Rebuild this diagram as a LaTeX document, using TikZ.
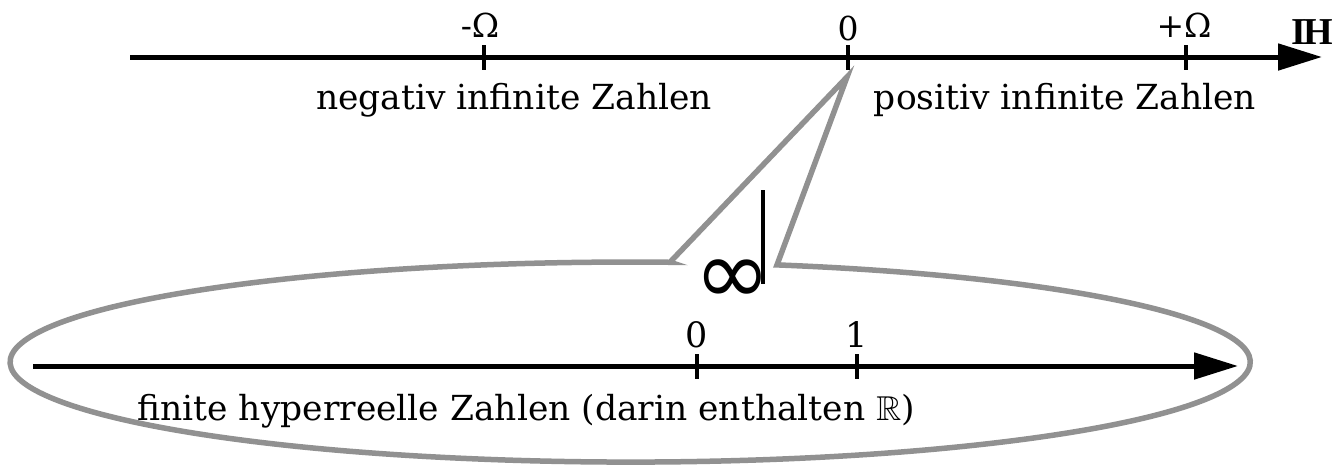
\documentclass[tikz,border=0pt]{standalone}
\usepackage{fontspec}
\usepackage{amssymb}
\setmainfont{DejaVu Serif}
\newfontfamily\symfont{DejaVu Sans}
\newfontfamily\timesfont{Liberation Serif}
\usetikzlibrary{arrows.meta}
\definecolor{calloutgray}{RGB}{145,145,145}
\tikzset{
  axisline/.style={line width=5pt, -{Triangle[length=44pt,width=26pt]}},
  tickmark/.style={line width=4.5pt},
  ticklabel/.style={font=\fontsize{33}{38}\selectfont, inner sep=0pt},
  bigticklabel/.style={font=\fontsize{35}{40}\selectfont, inner sep=0pt},
  rangelabel/.style={font=\fontsize{34.5}{40}\selectfont, inner sep=0pt},
  calloutline/.style={draw=calloutgray, line width=5.5pt, line join=miter}
}
\begin{document}
\begin{tikzpicture}[x=1pt,y=1pt]
\useasboundingbox (0,0) rectangle (1343,-472);
% callout ellipse with pointer
\coordinate (cA) at (670,-262.2);
\coordinate (cTip) at (847,-77);
\coordinate (cB) at (777,-264.9);
\draw[calloutline] (cA) -- (cTip) -- (cB)
  arc[start angle=76.3, end angle=-273.7, x radius=620pt, y radius=100pt] -- cycle;
% top axis (hyperreal line)
\coordinate (hs) at (130,-57);
\coordinate (he) at (1322,-57);
\draw[axisline] (hs) -- (he);
\foreach \name/\x in {tm/484, tz/848, tp/1186}{
  \coordinate (\name) at (\x,-57);
  \draw[tickmark] ([yshift=12pt]\name) -- ([yshift=-13pt]\name);
}
\node[ticklabel] (lm) at (480,-25) {-Ω};
\node[ticklabel] (lz) at (848,-28) {0};
\node[ticklabel] (lp) at (1184,-25) {+Ω};
\node[inner sep=0pt, font=\timesfont\bfseries\fontsize{38}{42}\selectfont] (lH) at (1312,-32) {I\kern-.08em H};
\node[rangelabel] (neg) at (514,-100) {negativ infinite Zahlen};
\node[rangelabel] (pos) at (1065,-100) {positiv infinite Zahlen};
% infinitesimal symbol
\node[inner sep=0pt, font=\symfont\fontsize{92}{96}\selectfont] (inf) at (733,-282) {∞};
\coordinate (stemtop) at (763,-190);
\coordinate (stembot) at (763,-284);
\draw[line width=4pt] (stemtop) -- (stembot);
% bottom axis (finite hyperreals)
\coordinate (rs) at (33,-366);
\coordinate (re) at (1238,-366);
\draw[axisline] (rs) -- (re);
\foreach \name/\x in {bz/697, bo/857}{
  \coordinate (\name) at (\x,-366);
  \draw[tickmark] ([yshift=12pt]\name) -- ([yshift=-13pt]\name);
}
\node[bigticklabel] (l0) at (697,-335) {0};
\node[bigticklabel] (l1) at (857,-335) {1};
\node[rangelabel] (fin) at (526,-411) {finite hyperreelle Zahlen (darin enthalten $\mathbb{R}$)};
\end{tikzpicture}
\end{document}
